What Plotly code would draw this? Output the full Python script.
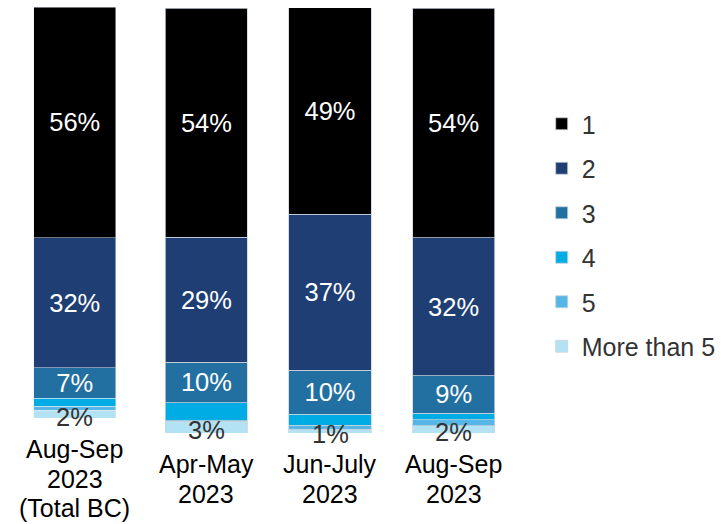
import plotly.graph_objects as go

# ---- data ----
categories = ["Aug-Sep<br>2023<br>(Total BC)", "Apr-May<br>2023", "Jun-July<br>2023", "Aug-Sep<br>2023"]
series_names = ["1", "2", "3", "4", "5", "More than 5"]
s1 = [56.2, 53.9, 48.6, 54.1]
s2 = [31.6, 29.4, 36.7, 32.4]
s3 = [7.4, 9.6, 10.4, 8.8]
s4 = [1.9, 4.2, 2.6, 1.6]
s5 = [1.0, 0.1, 0.9, 1.4]
s6 = [1.9, 2.8, 0.9, 1.7]
values = [s1, s2, s3, s4, s5, s6]
show_label = [True, True, True, False, False, True]
colors = ["#000000", "#1E3E74", "#226FA2", "#00ACE4", "#56B7E6", "#B3E2F4"]
label_colors = ["#FFFFFF", "#FFFFFF", "#FFFFFF", "#FFFFFF", "#FFFFFF", "#333333"]

FONT = "Liberation Sans, Arial, sans-serif"
FS = 25.5

fig = go.Figure()

# stacked bottom-up: More than 5 first, 1 last
for idx in reversed(range(len(series_names))):
    name = series_names[idx]
    vals = values[idx]
    labels = [f"{v:.0f}%" for v in vals]
    inside = show_label[idx] and label_colors[idx] == "#FFFFFF"
    common = dict(
        name=name,
        legendgroup=name,
        legendrank=idx + 1,
        marker=dict(color=colors[idx]),
        textposition="inside" if inside else "none",
        insidetextanchor="middle",
        textangle=0,
        textfont=dict(color=label_colors[idx], size=FS, family=FONT),
        width=0.664,
        hoverinfo="skip",
    )
    fig.add_trace(go.Bar(
        x=[categories[0]], y=[vals[0]], text=[labels[0]],
        xaxis="x2", yaxis="y2", showlegend=False, **common))
    fig.add_trace(go.Bar(
        x=categories[1:], y=vals[1:], text=labels[1:],
        xaxis="x", yaxis="y", showlegend=True,
        marker_line=dict(color="#C9D1DC", width=0.75),
        **common))

# small bottom-segment labels drawn on top of the stack
def add_small_labels(cats, vals, xref, yref):
    for c, v in zip(cats, vals):
        fig.add_annotation(
            x=c, y=v / 2, xref=xref, yref=yref, text=f"{v:.0f}%",
            showarrow=False, yanchor="middle", yshift=-2.5,
            font=dict(family=FONT, size=FS, color=label_colors[5]))

add_small_labels(categories[:1], s6[:1], "x2", "y2")
add_small_labels(categories[1:], s6[1:], "x", "y")

# x-axis labels as annotations (line by line)
def add_cat_labels(cats, xref, yref):
    for c in cats:
        for i, line in enumerate(c.split("<br>")):
            fig.add_annotation(
                x=c, y=0, xref=xref, yref=yref, text=line, showarrow=False,
                yanchor="middle", yshift=-(31 + 29.5 * i),
                font=dict(family=FONT, size=25, color="#000000"))

add_cat_labels(categories[:1], "x2", "y2")
add_cat_labels(categories[1:], "x", "y")

H = 524.0
W = 721.0
fig.update_layout(
    width=721, height=524,
    barmode="stack",
    margin=dict(l=0, r=0, t=0, b=0),
    paper_bgcolor="white", plot_bgcolor="white",
    font=dict(family=FONT, size=25, color="#333333"),
    uniformtext=dict(minsize=FS, mode="show"),
    xaxis=dict(domain=[146 / W, 520.5 / W], anchor="y", type="category",
               range=[-0.5, 2.5], showticklabels=False, showgrid=False,
               zeroline=False, showline=False, ticks=""),
    yaxis=dict(domain=[1 - 433 / H, 1 - 8 / H], anchor="x", range=[0, 100],
               visible=False),
    xaxis2=dict(domain=[13 / W, 138 / W], anchor="y2", type="category",
                range=[-0.5, 0.5], showticklabels=False, showgrid=False,
                zeroline=False, showline=False, ticks=""),
    yaxis2=dict(domain=[1 - 418 / H, 1 - 7 / H], anchor="x2", range=[0, 100],
                visible=False),
    legend=dict(x=547 / W, xanchor="left", y=1 - 235 / H, yanchor="middle",
                traceorder="grouped", tracegroupgap=9,
                font=dict(family=FONT, size=25, color="#333333"),
                bgcolor="rgba(0,0,0,0)"),
    showlegend=True,
)

fig.write_html("out.html", config={"displayModeBar": False},
               post_script="document.body.style.margin='0';document.body.style.overflow='hidden';")
